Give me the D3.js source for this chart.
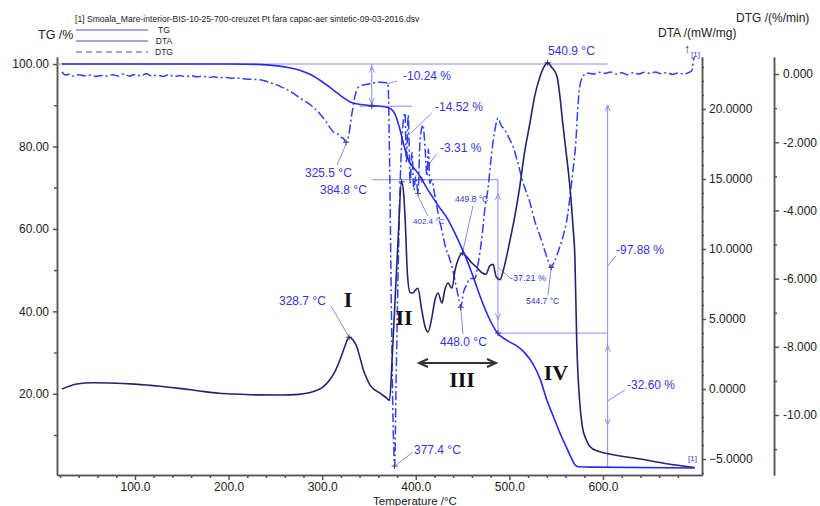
<html>
<head>
<title>TG-DTA-DTG</title>
<meta charset="utf-8">
<script src="https://d3js.org/d3.v7.min.js"></script>
<style>
body { margin: 0; background: #fff; }
text { font-family: Arial, "Liberation Sans", sans-serif; }
.axis path, .axis line { stroke: #555; stroke-width: 1.5; }
.axis text { fill: #222; font-size: 12px; font-family: Arial, "Liberation Sans", sans-serif; }
</style>
</head>
<body>
<script>
// TG /% vs temperature
var tg = [[22,100],[100,100],[200,100],[230,99.9],[250,99.6],[265,99.1],[276,98.5],[287,97.5],[298,96.0],
  [308,94.4],[316,93.0],[323,91.8],[330,90.8],[338,90.3],[348,90.0],[360,89.8],[369,89.5],[374,89.0],
  [378,87.8],[382,85.0],[386,81.5],[389,78.8],[392,76.8],[396,75.3],[400,74.2],[405,72.6],[411,70.2],
  [418,67.7],[425,65.3],[433,62.8],[440,59.8],[447,56.4],[454,52.8],[461,48.6],[469,43.5],[478,38.5],
  [487,34.8],[497,33.0],[508,31.6],[517,29.8],[525,27.3],[533,23.5],[540,18.5],[547,14.5],[554,10.5],
  [561,7.0],[566,4.5],[570,2.8],[574,2.3],[590,2.2],[698,2.0]];

// DTA /(mW/mg)
var dta = [[22,0.0],[38,0.36],[55,0.45],[73,0.43],[100,0.35],[127,0.2],[150,0.03],[169,-0.14],[190,-0.3],
  [205,-0.36],[230,-0.42],[258,-0.43],[275,-0.38],[290,-0.2],[300,0.1],[308,0.64],[314,1.3],[319,2.07],
  [324,3.0],[328.7,3.7],[333,3.5],[337,3.0],[341,2.1],[344,1.36],[348,0.7],[351,0.3],[356,-0.05],
  [362,-0.3],[368,-0.6],[372,-0.8],[375,2.5],[378,6.5],[381,10.5],[384.8,14.8],[387,14.0],[389,11.6],
  [391,8.3],[393.8,6.9],[397,6.86],[400,7.1],[402.3,7.2],[406,5.8],[410,4.43],[413,4.07],[417.3,5.14],
  [420.5,6.36],[423.7,6.86],[428,6.14],[431,7.07],[434.4,7.57],[438.7,7.2],[442,8.5],[445,9.2],
  [449.8,9.7],[455,9.4],[460,9.0],[465,8.7],[470.7,8.3],[475,8.2],[479,8.8],[482.5,8.9],[486,8.0],
  [490,7.8],[494,8.6],[500.6,10.6],[506,12.4],[511,14.4],[516,16.8],[522,19],[527,20.9],[532.7,22.3],
  [537,23.0],[540.9,23.3],[545,23.0],[551,22.3],[554,20.9],[557,19],[561,16.7],[565,14.2],[568,11.6],
  [570,9.4],[572,3.3],[575,-0.8],[578,-2.7],[582,-3.6],[586,-4.1],[595,-4.45],[604,-4.6],[640,-5.0],
  [670,-5.35],[698,-5.6]];

// DTG /(%/min)
var dtg = [[22,0.06],[26,-0.03],[30,0.0],[34,-0.06],[40,-0.02],[46,-0.05],[52,-0.03],[58,-0.07],[64,-0.04],
  [70,-0.06],[76,-0.02],[82,-0.06],[88,0.0],[94,-0.06],[100,-0.01],[106,-0.05],[112,0.01],[118,-0.06],
  [124,-0.03],[130,-0.07],[136,-0.02],[142,-0.07],[148,-0.04],[154,-0.08],[160,-0.05],[166,-0.08],
  [172,-0.06],[178,-0.1],[184,-0.08],[190,-0.11],[196,-0.09],[202,-0.12],[210,-0.12],[220,-0.15],
  [230,-0.16],[237,-0.19],[245,-0.26],[255,-0.36],[262,-0.45],[269,-0.56],[276,-0.7],[283,-0.82],
  [290,-0.96],[297,-1.15],[302,-1.32],[305,-1.43],[309,-1.6],[312,-1.7],[316,-1.75],[320,-1.85],
  [323,-1.9],[325.5,-2.0],[329,-1.7],[331,-1.3],[333,-0.96],[335,-0.65],[337,-0.47],[340,-0.36],
  [343.6,-0.32],[348,-0.3],[355,-0.26],[362,-0.24],[370.3,-0.26],[372,-2.5],[374,-7],[376,-10.5],
  [377.4,-11.5],[379,-9],[381,-6],[383,-3.5],[385,-2],[387,-1.3],[388.5,-1.14],[390,-2.6],[392,-1.2],
  [394,-3.2],[396,-2.3],[398,-3.4],[400,-3.0],[402.4,-3.5],[404.5,-2.0],[407.7,-1.49],[410,-2.2],
  [412,-3.0],[413.5,-2.2],[415,-3.2],[417,-3.1],[420,-3.5],[424,-4.1],[428,-4.6],[432,-5.1],[436,-5.4],
  [440,-5.8],[443,-6.2],[446,-6.6],[448,-6.84],[451,-6.4],[454,-6.2],[458,-6.0],[463,-6.0],[467,-5.5],
  [471,-4.7],[474,-3.9],[477,-3.4],[480,-2.6],[483,-1.9],[485.5,-1.5],[487.8,-1.29],[491,-1.5],
  [494,-1.6],[497,-1.73],[500,-1.9],[504,-2.13],[508,-2.5],[511,-2.81],[516,-3.3],[522,-3.77],
  [527,-4.3],[533,-4.77],[538,-5.2],[541,-5.44],[544.7,-5.67],[548,-5.5],[554,-5.06],[558,-4.7],
  [562,-4.18],[566,-3.3],[568,-2.81],[571,-2.0],[573,-1.05],[575,-0.4],[578,-0.1],[583,0.03],
  [590,0.0],[596,0.05],[602,0.02],[608,0.06],[614,0.0],[620,0.04],[626,-0.02],[632,0.04],[638,0.0],
  [644,0.05],[650,0.02],[656,0.06],[662,0.01],[668,0.04],[674,-0.01],[680,0.03],[686,0.0],[692,0.05],
  [695,0.1],[697,0.45],[698,0.5]];

var tempTicks = [100,200,300,400,500,600];
var tgTicks = [20,40,60,80,100];
var dtaTicks = [-5,0,5,10,15,20];
var dtgTicks = [0,-2,-4,-6,-8,-10];

var width = 820, height = 506;
var plot = {left: 57, right: 702, top: 57, bottom: 475};

var svg = d3.select("body").append("svg")
    .attr("width", width)
    .attr("height", height);

// scales
var x = d3.scaleLinear().domain([16.7, 705.8]).range([plot.left, plot.right]);
var yTG = d3.scaleLinear().domain([0.3, 101.7]).range([plot.bottom, plot.top]);
var yDTA = d3.scaleLinear().domain([-6.14, 23.71]).range([plot.bottom, plot.top]);
var yDTG = d3.scaleLinear().domain([-11.76, 0.5]).range([plot.bottom, plot.top]);

var blue = "#3535dc", pale = "#8a8af5";

// axes
svg.append("g").attr("class", "axis")
    .attr("transform", "translate(" + plot.left + ",0)")
    .call(d3.axisLeft(yTG).tickValues(tgTicks).tickFormat(d3.format(".2f")).tickSize(4).tickSizeOuter(0).tickPadding(4));
svg.append("g").attr("class", "axis")
    .attr("transform", "translate(" + plot.left + ",0)")
    .call(d3.axisLeft(yTG).tickValues([10,30,50,70,90]).tickFormat("").tickSize(3).tickSizeOuter(0));

svg.append("g").attr("class", "axis")
    .attr("transform", "translate(0," + plot.bottom + ")")
    .call(d3.axisBottom(x).tickValues(tempTicks).tickFormat(d3.format(".1f")).tickSize(5).tickSizeOuter(0).tickPadding(2));
svg.append("g").attr("class", "axis")
    .attr("transform", "translate(0," + plot.bottom + ")")
    .call(d3.axisBottom(x).tickValues(d3.range(20, 700, 20).filter(function(d){ return d % 100; }))
      .tickFormat("").tickSize(3).tickSizeOuter(0));

svg.append("g").attr("class", "axis")
    .attr("transform", "translate(" + plot.right + ",0)")
    .call(d3.axisRight(yDTA).tickValues(dtaTicks).tickFormat(d3.format(".4f")).tickSize(4).tickSizeOuter(0).tickPadding(3));
svg.append("g").attr("class", "axis")
    .attr("transform", "translate(" + plot.right + ",0)")
    .call(d3.axisRight(yDTA).tickValues(d3.range(-6, 24).filter(function(d){ return d % 5; }))
      .tickFormat("").tickSize(2).tickSizeOuter(0));

svg.append("g").attr("class", "axis")
    .attr("transform", "translate(774,0)")
    .call(d3.axisRight(yDTG).tickValues(dtgTicks)
      .tickFormat(function(d){ return d <= -10 ? d.toFixed(2) : d.toFixed(3); })
      .tickSize(5).tickSizeOuter(0).tickPadding(4));
svg.append("g").attr("class", "axis")
    .attr("transform", "translate(774,0)")
    .call(d3.axisRight(yDTG).tickValues([-1,-3,-5,-7,-9,-11]).tickFormat("").tickSize(3).tickSizeOuter(0));

// axis titles and header
svg.append("text").attr("x", 415).attr("y", 505).attr("text-anchor", "middle")
    .style("font-size", "11.5px").attr("fill", "#222").text("Temperature /°C");
svg.append("text").attr("x", 38).attr("y", 39).style("font-size", "12.5px").attr("fill", "#222").text("TG /%");
svg.append("text").attr("x", 658).attr("y", 37).style("font-size", "12px").attr("fill", "#222").text("DTA /(mW/mg)");
svg.append("text").attr("x", 736).attr("y", 22).style("font-size", "12px").attr("fill", "#222").text("DTG /(%/min)");
svg.append("text").attr("x", 684).attr("y", 53).style("font-size", "12px").attr("fill", "#222").text("↑");
svg.append("text").attr("x", 75).attr("y", 22).style("font-size", "8.6px").attr("fill", "#222")
    .text("[1] Smoala_Mare-interior-BIS-10-25-700-creuzet Pt fara capac-aer sintetic-09-03-2016.dsv");

// legend
var legend = [{name: "TG", dash: null}, {name: "DTA", dash: null}, {name: "DTG", dash: "6,4"}];
legend.forEach(function(d, i) {
  svg.append("line").attr("x1", 76).attr("x2", 148).attr("y1", 30 + i * 11).attr("y2", 30 + i * 11)
      .attr("stroke", "#a4a4ec").attr("stroke-width", 1.8).attr("stroke-dasharray", d.dash);
  svg.append("text").attr("x", 164).attr("y", 33 + i * 11).attr("text-anchor", "middle")
      .style("font-size", "8.5px").attr("fill", "#222").text(d.name);
});

// annotation helpers
function seg(x1, y1, x2, y2, w) {
  svg.append("line").attr("x1", x1).attr("y1", y1).attr("x2", x2).attr("y2", y2)
      .attr("stroke", pale).attr("stroke-width", w || 1);
}
function head(px, py, dir) {
  svg.append("path").attr("d", "M" + (px - 2.5) + "," + (py - 6 * dir) + "L" + px + "," + py + "L" + (px + 2.5) + "," + (py - 6 * dir))
      .attr("fill", "none").attr("stroke", pale).attr("stroke-width", 1);
}
function note(px, py, txt, size) {
  svg.append("text").attr("x", px).attr("y", py).style("font-size", (size || 12) + "px")
      .attr("fill", blue).text(txt);
}
function cross(px, py) {
  svg.append("path").attr("d", "M" + (px - 3) + "," + py + "h6M" + px + "," + (py - 3) + "v6")
      .attr("stroke", "#444").attr("stroke-width", 1);
}

// reference lines of the step analysis
seg(x(16.7), yTG(100), x(605), yTG(100), 1.2);
seg(x(340), yTG(89.76), x(396), yTG(89.76));
seg(x(353), yTG(100), x(353), yTG(89.76));
head(x(353), yTG(99.4), -1); head(x(353), yTG(90.3), 1);
cross(x(353), yTG(89.76));
note(403, 80, "-10.24 %");
seg(x(369), 84, x(380), 81);

note(435, 111, "-14.52 %");
seg(x(395), 133, x(417), 113);
note(440, 152, "-3.31 %");
seg(x(413), 166, x(422), 154);

seg(372, yTG(71.93), x(488), yTG(71.93));
cross(x(406.5), yTG(71.93));
seg(x(487.8), yTG(71.93), x(487.8), yTG(34.72));
head(x(487.8), yTG(68.5), -1); head(x(487.8), yTG(38), 1);
note(510, 281, "-37.21 %", 9);
seg(x(489), 268, 510, 278);

seg(x(487.8), yTG(34.72), x(605), yTG(34.72));
cross(x(487.8), yTG(34.72));
seg(x(605), yTG(90), x(605), yTG(2.12));
head(x(605), yTG(90), -1); head(x(605), yTG(31.7), -1);
head(x(605), yTG(12.5), 1);
note(616, 254, "-97.88 %");
seg(x(605), 266, 616, 256);
note(627, 389, "-32.60 %");
seg(x(605), 401, 625, 390);

// peak labels
note(548, 55, "540.9 °C");
cross(x(540.9), yDTA(23.3));
note(305, 177, "325.5 °C");
seg(x(325.5), yDTG(-2.0) + 2, 337, 165);
cross(x(325.5), yDTG(-2.0));
note(320, 194, "384.8 °C");
cross(x(384.8), yDTA(14.8));
note(413, 224, "402.4 °C", 8);
seg(x(402.4), yDTG(-3.5) + 3, 428, 216);
cross(x(402.4), yDTG(-3.5));
note(455, 202, "449.8 °C", 8.5);
seg(x(449.8), yDTA(9.7), 473, 206);
cross(x(449.8), yDTA(9.7));
note(440, 346, "448.0 °C");
seg(x(448), yDTG(-6.84), 463, 334);
cross(x(448), yDTG(-6.84));
note(526, 304, "544.7 °C", 8.5);
seg(x(544.7), yDTG(-5.67), 548, 295);
cross(x(544.7), yDTG(-5.67));
note(414, 454, "377.4 °C");
seg(x(377.4), yDTG(-11.5), 413, 452);
cross(x(377.4), yDTG(-11.5));
note(279, 305, "328.7 °C");
seg(x(328.7), yDTA(3.7), 331, 306);
cross(x(328.7), yDTA(3.7));
note(688, 461, "[1]", 8);
note(691, 57, "[1]", 8);

// curves
var lineTG = d3.line().x(function(d){ return x(d[0]); }).y(function(d){ return yTG(d[1]); }).curve(d3.curveMonotoneX);
var lineDTA = d3.line().x(function(d){ return x(d[0]); }).y(function(d){ return yDTA(d[1]); }).curve(d3.curveMonotoneX);
var lineDTG = d3.line().x(function(d){ return x(d[0]); }).y(function(d){ return yDTG(d[1]); }).curve(d3.curveMonotoneX);

svg.append("path").datum(dtg).attr("d", lineDTG).attr("fill", "none")
    .attr("stroke", "#2f3ff2").attr("stroke-width", 1.5).attr("stroke-dasharray", "9,3,2,3");
svg.append("path").datum(dta).attr("d", lineDTA).attr("fill", "none")
    .attr("stroke", "#24246e").attr("stroke-width", 1.6);
svg.append("path").datum(tg).attr("d", lineTG).attr("fill", "none")
    .attr("stroke", "#2a2ae8").attr("stroke-width", 1.6);

// stage labels
var stages = [["I", 348, 307], ["II", 404, 325], ["III", 462, 387], ["IV", 556, 380]];
stages.forEach(function(s) {
  svg.append("text").attr("x", s[1]).attr("y", s[2]).attr("text-anchor", "middle")
      .style("font-family", "'Liberation Serif', 'DejaVu Serif', serif").style("font-weight", "bold")
      .style("font-size", "22px").attr("fill", "#111").text(s[0]);
});
svg.append("path").attr("d", "M420,363H495M428,359L419,363L428,367M487,359L496,363L487,367")
    .attr("fill", "none").attr("stroke", "#333").attr("stroke-width", 2);
</script>
</body>
</html>
